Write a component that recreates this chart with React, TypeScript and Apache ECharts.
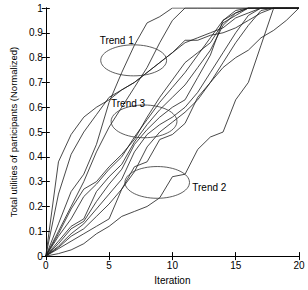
import React, { useEffect, useRef } from "react";
import * as echarts from "echarts";

const iterations = Array.from({ length: 21 }, (_, i) => i);

const lineA = [0, 0.38, 0.49, 0.56, 0.6, 0.63, 0.67, 0.7, 0.74, 0.78, 0.82, 0.86, 0.88, 0.9, 0.92, 0.96, 0.98, 1, 1, 1, 1];
const lineB = [0, 0.25, 0.41, 0.5, 0.57, 0.64, 0.67, 0.7, 0.74, 0.78, 0.82, 0.87, 0.87, 0.89, 0.9, 0.92, 0.95, 0.98, 1, 1, 1];
const lineC = [0, 0.13, 0.26, 0.33, 0.45, 0.62, 0.74, 0.85, 0.94, 0.965, 1, 1, 1, 1, 1, 1, 1, 1, 1, 1, 1];
const lineD = [0, 0.1, 0.2, 0.3, 0.42, 0.52, 0.6, 0.68, 0.76, 0.86, 0.95, 1, 1, 1, 1, 1, 1, 1, 1, 1, 1];
const trend3a = [0, 0.09, 0.19, 0.27, 0.3, 0.36, 0.41, 0.47, 0.56, 0.64, 0.71, 0.78, 0.82, 0.86, 0.94, 0.97, 1, 1, 1, 1, 1];
const trend3b = [0, 0.08, 0.15, 0.24, 0.29, 0.35, 0.4, 0.48, 0.55, 0.62, 0.68, 0.74, 0.81, 0.88, 0.95, 0.98, 1, 1, 1, 1, 1];
const trend3c = [0, 0.06, 0.12, 0.15, 0.26, 0.32, 0.37, 0.46, 0.53, 0.59, 0.64, 0.69, 0.76, 0.83, 0.93, 0.98, 1, 1, 1, 1, 1];
const trend3d = [0, 0.05, 0.11, 0.14, 0.22, 0.29, 0.35, 0.45, 0.51, 0.56, 0.6, 0.63, 0.72, 0.81, 0.95, 0.99, 1, 1, 1, 1, 1];
const trend3e = [0, 0.04, 0.09, 0.13, 0.19, 0.25, 0.31, 0.42, 0.49, 0.53, 0.56, 0.6, 0.66, 0.74, 0.82, 0.9, 0.97, 1, 1, 1, 1];
const trend3f = [0, 0.035, 0.08, 0.11, 0.16, 0.21, 0.27, 0.34, 0.44, 0.5, 0.54, 0.58, 0.63, 0.7, 0.78, 0.86, 0.93, 0.99, 1, 1, 1];
const trend2 = [0, 0.01, 0.025, 0.05, 0.09, 0.12, 0.16, 0.18, 0.2, 0.235, 0.32, 0.33, 0.43, 0.48, 0.5, 0.63, 0.7, 0.85, 1, 1, 1];
const lineSlow = [0, 0.03, 0.06, 0.09, 0.12, 0.15, 0.27, 0.36, 0.38, 0.47, 0.49, 0.535, 0.64, 0.7, 0.76, 0.8, 0.83, 0.88, 0.91, 0.95, 1];

const allLines = [lineA, lineB, lineC, lineD, trend3a, trend3b, trend3c, trend3d, trend3e, trend3f, trend2, lineSlow];

const xTicks = { min: 0, max: 20, interval: 5 };
const yTicks = { min: 0, max: 1, interval: 0.1 };

const ellipses = [
  { cx: 6.94, cy: 0.789, rx: 2.6, ry: 0.0625 },
  { cx: 7.76, cy: 0.543, rx: 2.6, ry: 0.066 },
  { cx: 8.8, cy: 0.297, rx: 2.55, ry: 0.064 },
];
const labels = [
  { text: "Trend 1", x: 5.6, y: 0.871, align: "center" },
  { text: "Trend 3", x: 6.5, y: 0.617, align: "center" },
  { text: "Trend 2", x: 11.57, y: 0.277, align: "left" },
];

const FONT = "'Liberation Sans', Arial, Helvetica, sans-serif";

export default function App() {
  const ref = useRef<HTMLDivElement>(null);
  useEffect(() => {
    if (!ref.current) return;
    const chart = echarts.init(ref.current, null, { renderer: "svg" });
    const axisCommon = {
      type: "value" as const,
      axisLine: { show: true, lineStyle: { color: "#000", width: 1 } },
      axisTick: { show: true, inside: true, length: 4, lineStyle: { color: "#000" } },
      splitLine: { show: false },
    };
    chart.setOption({
      animation: false,
      backgroundColor: "#fff",
      grid: { left: 31, top: 8, width: 268, height: 256, containLabel: false },
      xAxis: [
        {
          ...axisCommon,
          ...xTicks,
          position: "bottom",
          name: "Iteration",
          nameLocation: "middle",
          nameGap: 17,
          nameTextStyle: { fontFamily: FONT, fontSize: 10, color: "#000" },
          axisLabel: { fontFamily: FONT, fontSize: 10, color: "#000", margin: 4 },
        },
        {
          ...axisCommon,
          ...xTicks,
          position: "top",
          axisLabel: { show: false },
        },
      ],
      yAxis: [
        {
          ...axisCommon,
          ...yTicks,
          position: "left",
          name: "Total utilities of participants (Normalized)",
          nameLocation: "middle",
          nameGap: 21,
          nameTextStyle: { fontFamily: FONT, fontSize: 9.5, color: "#000" },
          axisLabel: {
            fontFamily: FONT,
            fontSize: 10,
            color: "#000",
            margin: 3,
            formatter: (v: number) => (v === 0 ? "0" : v === 1 ? "1" : v.toFixed(1)),
          },
        },
        {
          ...axisCommon,
          ...yTicks,
          position: "right",
          axisLabel: { show: false },
        },
      ],
      series: allLines.map((vals) => ({
        type: "line",
        xAxisIndex: 0,
        yAxisIndex: 0,
        data: iterations.map((it, i) => [it, vals[i]]),
        showSymbol: false,
        symbol: "none",
        lineStyle: { color: "#1a1a1a", width: 0.8 },
        silent: true,
      })),
    });

    const toPx = (x: number, y: number) =>
      chart.convertToPixel({ xAxisIndex: 0, yAxisIndex: 0 }, [x, y]) as number[];

    const graphics: any[] = [];
    ellipses.forEach((e) => {
      const c = toPx(e.cx, e.cy);
      const r = toPx(e.cx + e.rx, e.cy + e.ry);
      graphics.push({
        type: "ellipse",
        shape: { cx: c[0], cy: c[1], rx: Math.abs(r[0] - c[0]), ry: Math.abs(c[1] - r[1]) },
        style: { fill: "none", stroke: "#333", lineWidth: 0.8 },
        z: 10,
      });
    });
    labels.forEach((l) => {
      const p = toPx(l.x, l.y);
      graphics.push({
        type: "text",
        x: p[0],
        y: p[1],
        style: {
          text: l.text,
          fontFamily: FONT,
          fontSize: 10,
          fill: "#000",
          align: l.align,
          verticalAlign: "middle",
        },
        z: 11,
      });
    });
    chart.setOption({ graphic: graphics });

    return () => chart.dispose();
  }, []);
  return (
    <div
      ref={ref}
      style={{ position: "fixed", left: 0, top: 0, width: 308, height: 290 }}
    />
  );
}
